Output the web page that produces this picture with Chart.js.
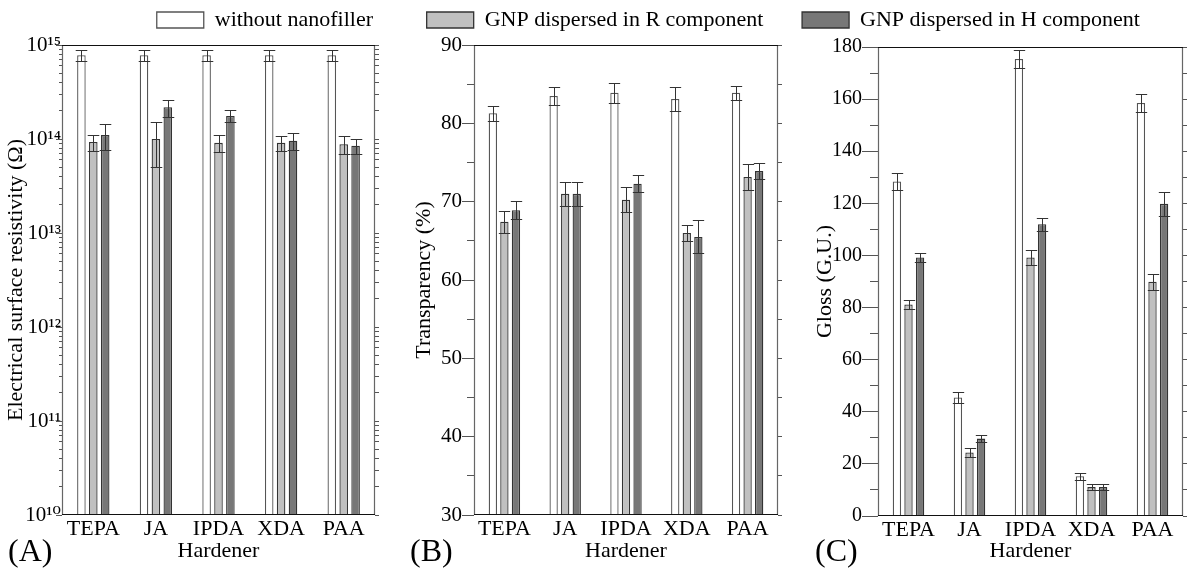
<!DOCTYPE html>
<html>
<head>
<meta charset="utf-8">
<script src="https://cdn.jsdelivr.net/npm/chart.js@4.4.1/dist/chart.umd.min.js"></script>
<style>
body{margin:0;background:#fff;}
#wrap{position:relative;width:1192px;height:570px;overflow:hidden;background:#fff;}
canvas{position:absolute;top:0;}
.tag{position:absolute;top:534px;font-family:'Liberation Serif',serif;font-size:32px;line-height:1;color:#000;}
</style>
</head>
<body>
<div id="wrap">
<canvas id="ca" width="390" height="570" style="left:0"></canvas>
<canvas id="cb" width="390" height="570" style="left:400px"></canvas>
<canvas id="cc" width="442" height="570" style="left:750px"></canvas>
<div class="tag" style="left:8px">(A)</div>
<div class="tag" style="left:410px">(B)</div>
<div class="tag" style="left:815px">(C)</div>
</div>
<script>
const hardeners=['TEPA','JA','IPDA','XDA','PAA'];
const seriesNames=['without nanofiller','GNP dispersed in R component','GNP dispersed in H component'];

// (A) electrical surface resistivity, ohm
const resistNone=[7.8e14,7.8e14,7.8e14,7.8e14,7.8e14];
const resistNoneErr=[1e14,1e14,1e14,1e14,1e14];
const resistR=[9.3e13,1.0e14,9.1e13,9.1e13,8.8e13];
const resistRErr=[1.8e13,5e13,1.8e13,1.7e13,1.9e13];
const resistH=[1.1e14,2.18e14,1.76e14,9.6e13,8.5e13];
const resistHErr=[3.4e13,4.5e13,2.5e13,1.9e13,1.5e13];
const resistDecades=[1e10,1e11,1e12,1e13,1e14,1e15];
const resistTickLabels=['10\u00b9\u2070','10\u00b9\u00b9','10\u00b9\u00b2','10\u00b9\u00b3','10\u00b9\u2074','10\u00b9\u2075'];

// (B) transparency, %
const transNone=[81.3,83.5,83.9,83.1,83.9];
const transNoneErr=[0.95,1.2,1.3,1.5,0.9];
const transR=[67.45,71.0,70.25,66.0,73.15];
const transRErr=[1.4,1.5,1.6,1.0,1.65];
const transH=[68.9,71.0,72.3,65.5,73.9];
const transHErr=[1.15,1.5,1.05,2.1,1.0];
const transTickLabels=[30,40,50,60,70,80,90];

// (C) gloss, G.U.
const glossNone=[128.4,45.5,175.4,15.3,158.5];
const glossNoneErr=[3.4,2,3.6,1.3,3.6];
const glossR=[81.2,24.4,99.2,11.1,89.9];
const glossRErr=[1.7,1.8,3,1.1,3];
const glossH=[99.2,29.7,112,11.1,119.8];
const glossHErr=[1.7,1.3,2.5,1.1,4.5];
const glossTickLabels=[0,20,40,60,80,100,120,140,160,180];

const FONT="'Liberation Serif','DejaVu Serif',serif";
Chart.defaults.font.family=FONT;
Chart.defaults.color='#000';
Chart.defaults.animation=false;

const fills=['#ffffff','#c0c0c0','#777777'];
const edges=['#555555','#333333','#333333'];

function sets(vals,errs){
 return vals.map((v,k)=>({label:seriesNames[k],data:v,errors:errs[k],backgroundColor:fills[k],borderColor:edges[k],borderWidth:1.3,categoryPercentage:0.57,barPercentage:0.72}));
}

// error bars drawn from the data through the y scale
const errorBars={id:'errorBars',afterDatasetsDraw(chart){
 const c=chart.ctx,y=chart.scales.y;
 c.save();c.strokeStyle='#333';c.lineWidth=1;
 chart.data.datasets.forEach((ds,i)=>{
  chart.getDatasetMeta(i).data.forEach((bar,j)=>{
   const v=ds.data[j],e=ds.errors[j];
   const t=Math.round(y.getPixelForValue(v+e))+0.5,b=Math.round(y.getPixelForValue(v-e))+0.5;
   const x=Math.round(bar.x)+0.5,h=bar.width/2+1.5;
   c.beginPath();
   c.moveTo(x,t);c.lineTo(x,b);
   c.moveTo(x-h,t);c.lineTo(x+h,t);
   c.moveTo(x-h,b);c.lineTo(x+h,b);
   c.stroke();
  });
 });
 c.restore();
}};

const frame={id:'frame',afterDatasetsDraw(chart){
 const {left,right,top,bottom}=chart.chartArea,c=chart.ctx;
 c.save();c.lineWidth=1.2;
 c.strokeStyle='#666';
 c.beginPath();c.moveTo(left+0.5,top);c.lineTo(left+0.5,bottom);c.moveTo(right-0.5,top);c.lineTo(right-0.5,bottom);c.stroke();
 c.strokeStyle='#111';
 c.beginPath();c.moveTo(left,top+0.5);c.lineTo(right,top+0.5);c.moveTo(left,bottom-0.5);c.lineTo(right,bottom-0.5);c.stroke();
 c.restore();
}};

function make(id,cfg){
 const dash=ctx=>(ctx.tick&&!cfg.isMajor(ctx.tick.value))?[0,cfg.tl-cfg.minor,cfg.minor,0]:[];
 return new Chart(document.getElementById(id),{
  type:'bar',
  data:{labels:hardeners,datasets:sets(cfg.vals,cfg.errs)},
  options:{
   responsive:false,
   layout:{padding:{top:7,left:0,right:cfg.pr||0,bottom:0}},
   plugins:{
    legend:{position:'top',align:cfg.align,labels:{filter:it=>it.datasetIndex===cfg.k,boxWidth:47,boxHeight:16,padding:2,color:'#000',font:{size:22}}},
    tooltip:{enabled:false}
   },
   scales:{
    x:{grid:{display:false,drawTicks:false,tickLength:0},border:{display:false},ticks:{autoSkip:false,maxRotation:0,padding:1,font:{size:22}},
       title:{display:true,text:'Hardener',font:{size:22},padding:{top:0,bottom:6}},
       afterFit:s=>{s.height=570-cfg.bottom;}},
    x2:{position:'top',grid:{display:false},border:{display:false},ticks:{display:false},afterFit:s=>{s.height=cfg.spacer;}},
    y:{type:cfg.type,min:cfg.min,max:cfg.max,position:'left',
       afterBuildTicks:s=>{s.ticks=cfg.ticks.map(v=>({value:v}));},
       afterFit:s=>{s.width=cfg.yw;},
       ticks:{autoSkip:false,padding:cfg.lp||0,font:{size:cfg.fs},callback:cfg.label},
       grid:{drawOnChartArea:false,tickLength:cfg.tl,tickColor:'#555',tickBorderDash:dash},
       border:{display:false},
       title:{display:true,text:cfg.title,font:{size:22},padding:{top:cfg.tp,bottom:0}}},
    y2:{type:cfg.type,min:cfg.min,max:cfg.max,position:'right',
       afterBuildTicks:s=>{s.ticks=cfg.ticks.map(v=>({value:v}));},
       afterFit:s=>{s.width=cfg.rw;},
       ticks:{display:false},
       grid:{drawOnChartArea:false,tickLength:4,tickColor:'#555'},
       border:{display:false}}
   }
  },
  plugins:[frame,errorBars]
 });
}

function logTicks(){
 const t=[];
 for(let e=10;e<15;e++)for(let m=1;m<10;m++)t.push(m*Math.pow(10,e));
 t.push(1e15);return t;
}
function stepTicks(a,b,s){const t=[];for(let v=a;v<=b;v+=s)t.push(v);return t;}
const isDecade=v=>Math.abs(Math.log10(v)-Math.round(Math.log10(v)))<1e-9;

make('ca',{k:0,align:'end',vals:[resistNone,resistR,resistH],errs:[resistNoneErr,resistRErr,resistHErr],
 type:'logarithmic',min:1e10,max:1e15,ticks:logTicks(),isMajor:isDecade,tl:6,minor:3,fs:21,lp:-5,
 label:v=>{const i=resistDecades.findIndex(d=>Math.abs(d-v)/d<1e-9);return i<0?'':resistTickLabels[i];},
 title:'Electrical surface resistivity (\u03a9)',tp:3,yw:62,rw:0,pr:15,bottom:515,spacer:4});

make('cb',{k:1,align:'center',vals:[transNone,transR,transH],errs:[transNoneErr,transRErr,transHErr],
 type:'linear',min:30,max:90,ticks:stepTicks(30,90,5),isMajor:v=>transTickLabels.includes(v),tl:12,minor:7,fs:21,
 label:v=>transTickLabels.includes(v)?String(v):'',
 title:'Transparency (%)',tp:11,yw:74,rw:12,bottom:515,spacer:4});

make('cc',{k:2,align:'center',vals:[glossNone,glossR,glossH],errs:[glossNoneErr,glossRErr,glossHErr],
 type:'linear',min:0,max:180,ticks:stepTicks(0,180,10),isMajor:v=>glossTickLabels.includes(v),tl:16,minor:8,fs:20,
 label:v=>glossTickLabels.includes(v)?String(v):'',
 title:'Gloss (G.U.)',tp:62,yw:128,rw:9,bottom:516,spacer:6});
</script>
</body>
</html>
